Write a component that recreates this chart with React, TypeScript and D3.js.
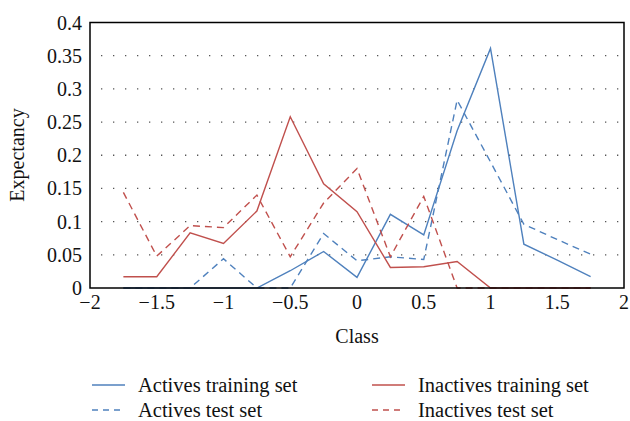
import React from "react";
import * as d3 from "d3";

const classes = [-1.75, -1.5, -1.25, -1, -0.75, -0.5, -0.25, 0, 0.25, 0.5, 0.75, 1, 1.25, 1.5, 1.75];
const activesTrain = [0, 0, 0, 0, 0, 0.026, 0.055, 0.016, 0.111, 0.08, 0.237, 0.361, 0.066, 0.042, 0.017];
const activesTest = [0, 0, 0, 0.044, 0, 0, 0.082, 0.041, 0.047, 0.043, 0.283, 0.19, 0.096, 0.073, 0.051];
const inactivesTrain = [0.017, 0.017, 0.083, 0.067, 0.116, 0.258, 0.157, 0.115, 0.031, 0.032, 0.04, 0, 0, 0, 0];
const inactivesTest = [0.144, 0.048, 0.094, 0.091, 0.14, 0.047, 0.128, 0.18, 0.047, 0.138, 0, 0, 0, 0, 0];

const xTicks = [-2, -1.5, -1, -0.5, 0, 0.5, 1, 1.5, 2];
const yTicks = [0, 0.05, 0.1, 0.15, 0.2, 0.25, 0.3, 0.35, 0.4];

const BLUE = "#4F81BD";
const RED = "#C0504D";
const FONT = "'Liberation Serif', 'DejaVu Serif', serif";

const series = [
  { name: "Actives training set", values: activesTrain, color: BLUE, dash: null as string | null },
  { name: "Actives test set", values: activesTest, color: BLUE, dash: "7,5" },
  { name: "Inactives training set", values: inactivesTrain, color: RED, dash: null as string | null },
  { name: "Inactives test set", values: inactivesTest, color: RED, dash: "7,5" },
];

const fmt = (v: number) => (v < 0 ? "\u2212" + String(-v) : String(v));

export default function App() {
  const left = 90, right = 624, top = 22.5, bottom = 288;
  const x = d3.scaleLinear().domain([-2, 2]).range([left, right]);
  const y = d3.scaleLinear().domain([0, 0.4]).range([bottom, top]);
  const line = d3
    .line<number>()
    .x((_, i) => x(classes[i]))
    .y((d) => y(d));

  const legend = [
    { s: series[0], lx: 92, ly: 385 },
    { s: series[1], lx: 92, ly: 410 },
    { s: series[2], lx: 372, ly: 385 },
    { s: series[3], lx: 372, ly: 410 },
  ];

  return (
    <svg
      width={630}
      height={421}
      style={{ position: "absolute", left: 0, top: 0, background: "#fff" }}
      fontFamily={FONT}
    >
      <rect x={0} y={0} width={630} height={421} fill="#fff" />
      {yTicks
        .filter((t) => t > 0 && t < 0.4)
        .map((t) => (
          <line
            key={"g" + t}
            x1={left + 11}
            x2={right - 2}
            y1={y(t)}
            y2={y(t)}
            stroke="#555"
            strokeWidth={1.3}
            strokeDasharray="1.3,10.7"
          />
        ))}
      {series.map((s) => (
        <path
          key={s.name}
          d={line(s.values) || ""}
          fill="none"
          stroke={s.color}
          strokeWidth={1.4}
          strokeDasharray={s.dash || undefined}
        />
      ))}
      <rect
        x={left}
        y={top}
        width={right - left}
        height={bottom - top}
        fill="none"
        stroke="#000"
        strokeWidth={1.5}
      />
      {yTicks.map((t) => (
        <text key={"y" + t} x={82} y={y(t)} dy="0.35em" textAnchor="end" fontSize={20} fill="#111">
          {fmt(t)}
        </text>
      ))}
      {xTicks.map((t) => (
        <text key={"x" + t} x={x(t)} y={309} textAnchor="middle" fontSize={20} fill="#111">
          {fmt(t)}
        </text>
      ))}
      <text x={357} y={343} textAnchor="middle" fontSize={20} fill="#111">
        Class
      </text>
      <text
        transform="translate(24,155) rotate(-90)"
        textAnchor="middle"
        fontSize={20}
        fill="#111"
      >
        Expectancy
      </text>
      {legend.map(({ s, lx, ly }) => (
        <g key={"l" + s.name}>
          <line
            x1={lx}
            x2={lx + 33}
            y1={ly}
            y2={ly}
            stroke={s.color}
            strokeWidth={1.4}
            strokeDasharray={s.dash ? "6,5" : undefined}
          />
          <text x={lx + 46} y={ly} dy="0.33em" fontSize={20.5} fill="#111">
            {s.name}
          </text>
        </g>
      ))}
    </svg>
  );
}
